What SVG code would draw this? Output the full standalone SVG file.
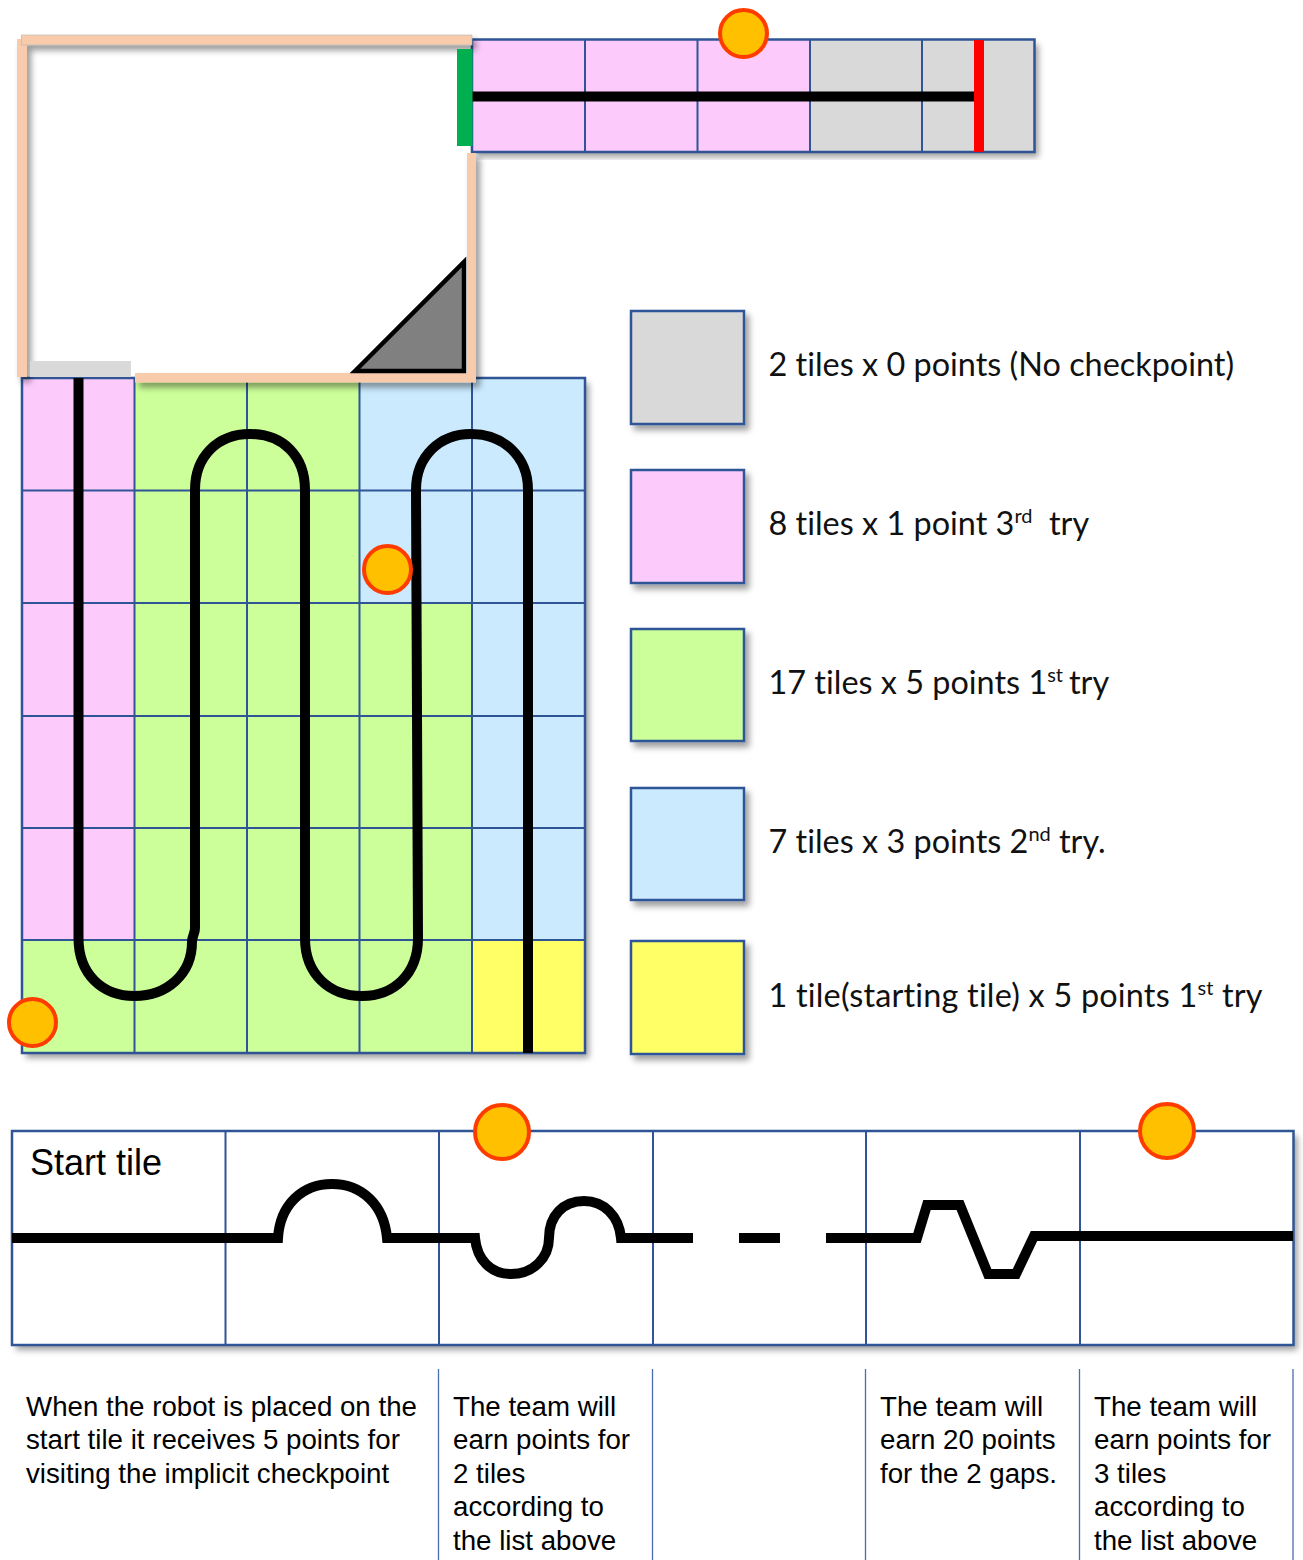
<svg xmlns="http://www.w3.org/2000/svg" width="1303" height="1560" viewBox="0 0 1303 1560">
<defs>
<filter id="sh" x="-5%" y="-5%" width="112%" height="112%"><feDropShadow dx="4" dy="5" stdDeviation="3" flood-color="#000" flood-opacity="0.38"/></filter>
<filter id="sh2" x="-20%" y="-20%" width="140%" height="140%"><feDropShadow dx="4" dy="5" stdDeviation="3" flood-color="#000" flood-opacity="0.38"/></filter>
<filter id="shw" filterUnits="userSpaceOnUse" x="0" y="20" width="500" height="380"><feDropShadow dx="4" dy="5" stdDeviation="3" flood-color="#000" flood-opacity="0.4"/></filter>
</defs>
<style>
.g{fill:none;stroke:#2f5597;stroke-width:2}
.b{fill:none;stroke:#2f5597;stroke-width:2.5}
.t{fill:none;stroke:#000;stroke-width:10}
.w{fill:#f8cbad}
.c{fill:#ffc000;stroke:#ff3c00;stroke-width:4}
.l{font-family:"Lato","Carlito",sans-serif;font-size:32.400px;fill:#111;font-variant-ligatures:none}
.a{font-family:"Liberation Sans",Arial,sans-serif;font-size:27.700px;fill:#000}
.s{font-size:20px}
.v{fill:none;stroke:#4a6db0;stroke-width:1.3}
</style>
<rect width="1303" height="1560" fill="#fff"/>

<g id="maze-grid">
<rect x="22" y="378" width="563" height="675" fill="#ccff99" filter="url(#sh)"/>
<rect x="22" y="378" width="112.500" height="562" fill="#fccbfc"/>
<rect x="359.500" y="378" width="225.500" height="225" fill="#cbeafe"/>
<rect x="472" y="603" width="113" height="337" fill="#cbeafe"/>
<rect x="472" y="940" width="113" height="113" fill="#ffff66"/>
<path class="g" d="M134.500 378V1053M247 378V1053M359.500 378V1053M472 378V1053M22 490.500H585M22 603H585M22 716H585M22 828H585M22 940H585"/>
<rect x="22" y="378" width="563" height="675" class="b"/>
</g>

<g id="top-strip">
<rect x="472" y="39.500" width="562.500" height="112.500" fill="#d9d9d9" filter="url(#sh)"/>
<rect x="472" y="39.500" width="338" height="112.500" fill="#fccbfc"/>
<path class="g" d="M585 39.500V152M697.500 39.500V152M810 39.500V152M922 39.500V152"/>
<rect x="472" y="39.500" width="562.500" height="112.500" class="b"/>
</g>

<g id="connectors">
<path d="M472 96.500H974" stroke="#000" stroke-width="10" fill="none"/>
<path class="t" d="M78.500 378V938C78.500 974 102 996 134.500 996C167 996 192 974 192 942C192 936 195 934 195 928V490C195 456 218 434 250 434C283 434 305 456 305 490V938C305 974 329 996 362 996C394 996 418 974 418 938L416 490C416 456 440 434 471 434C503 434 528 456 528 490V1053"/>
</g>

<g id="room-walls" filter="url(#shw)">
<rect x="17" y="39" width="10" height="338" class="w"/>
<rect x="21.500" y="35" width="450.500" height="10" class="w" stroke="#aaa" stroke-width="0.5"/>
<rect x="467" y="153" width="9" height="229" class="w"/>
<rect x="135" y="373" width="341" height="9.500" class="w"/>
</g>

<g id="start-door"><rect x="457" y="49" width="15.500" height="97" fill="#00b050"/></g>
<g id="entry-door"><rect x="30" y="361" width="101" height="16" fill="#d9d9d9"/></g>
<g id="finish-line"><rect x="974" y="40" width="10" height="112" fill="#ff0000"/></g>
<g id="ramp"><path d="M355 371L464 262V371Z" fill="#808080" stroke="#000" stroke-width="4.500"/></g>

<g id="checkpoint-top"><ellipse cx="743.500" cy="33.500" rx="23.500" ry="23.500" class="c"/></g>
<g id="checkpoint-mid"><ellipse cx="387.500" cy="569.500" rx="23.500" ry="23.500" class="c"/></g>
<g id="checkpoint-start"><ellipse cx="32.500" cy="1022.500" rx="23.500" ry="23.500" class="c"/></g>

<g id="legend-gray"><rect x="631" y="311" width="113" height="113" fill="#d9d9d9" stroke="#2f5597" stroke-width="2.500" filter="url(#sh2)"/><text class="l" x="768.500" y="376">2 tiles x 0 points (No checkpoint)</text></g>
<g id="legend-pink"><rect x="631" y="470" width="113" height="113" fill="#fccbfc" stroke="#2f5597" stroke-width="2.500" filter="url(#sh2)"/><text class="l" x="768.500" y="535">8 tiles x 1 point 3<tspan class="s" dy="-12">rd</tspan><tspan x="1049" dy="12">try</tspan></text></g>
<g id="legend-green"><rect x="631" y="629" width="113" height="112" fill="#ccff99" stroke="#2f5597" stroke-width="2.500" filter="url(#sh2)"/><text class="l" x="768.500" y="694">17 tiles x 5 points 1<tspan class="s" dy="-12">st</tspan><tspan x="1069" dy="12">try</tspan></text></g>
<g id="legend-blue"><rect x="631" y="788" width="113" height="112" fill="#cbeafe" stroke="#2f5597" stroke-width="2.500" filter="url(#sh2)"/><text class="l" x="768.500" y="853">7 tiles x 3 points 2<tspan class="s" dy="-12">nd</tspan><tspan x="1059" dy="12">try.</tspan></text></g>
<g id="legend-yellow"><rect x="631" y="941" width="113" height="113" fill="#ffff66" stroke="#2f5597" stroke-width="2.500" filter="url(#sh2)"/><text class="l" x="768.500" y="1007" letter-spacing="0.200">1 tile(starting tile) x 5 points 1<tspan class="s" dy="-12">st</tspan><tspan x="1222" dy="12">try</tspan></text></g>

<g id="strip-bottom">
<rect x="12" y="1131" width="1281.500" height="214" fill="#fff" filter="url(#sh)"/>
<path class="g" d="M225.500 1131V1345M439 1131V1345M653 1131V1345M866 1131V1345M1080 1131V1345"/>
<rect x="12" y="1131" width="1281.500" height="214" class="b"/>
<path d="M12 1238H278C280 1205 302 1184 332 1184C362 1184 384 1205 387 1238H475C477 1260 491 1274 511 1274C533 1274 549 1258 549 1238C549 1216 563 1201 584 1201C604 1201 619 1216 621 1238H693M739 1238H780M826 1238H917L927 1205H960L988 1274H1016L1034 1236H1293" fill="none" stroke="#000" stroke-width="10"/>
<text x="30" y="1175" font-family="Liberation Sans, Arial, sans-serif" font-size="36" fill="#000">Start tile</text>
</g>
<g id="checkpoint-b1"><ellipse cx="502" cy="1132" rx="27" ry="27" class="c"/></g>
<g id="checkpoint-b2"><ellipse cx="1167" cy="1131" rx="27" ry="27" class="c"/></g>

<g id="column-rules"><path class="v" d="M438.500 1369V1560M652.500 1369V1560M865.500 1369V1560M1079.500 1369V1560M1293 1369V1560"/></g>

<g id="notes">
<text class="a" x="26" y="1416">When the robot is placed on the</text>
<text class="a" x="26" y="1449">start tile it receives 5 points for</text>
<text class="a" x="26" y="1483">visiting the implicit checkpoint</text>
<text class="a" x="453" y="1416">The team will</text>
<text class="a" x="453" y="1449">earn points for</text>
<text class="a" x="453" y="1483">2 tiles</text>
<text class="a" x="453" y="1516">according to</text>
<text class="a" x="453" y="1550">the list above</text>
<text class="a" x="880" y="1416">The team will</text>
<text class="a" x="880" y="1449">earn 20 points</text>
<text class="a" x="880" y="1483">for the 2 gaps.</text>
<text class="a" x="1094" y="1416">The team will</text>
<text class="a" x="1094" y="1449">earn points for</text>
<text class="a" x="1094" y="1483">3 tiles</text>
<text class="a" x="1094" y="1516">according to</text>
<text class="a" x="1094" y="1550">the list above</text>
</g>
</svg>
